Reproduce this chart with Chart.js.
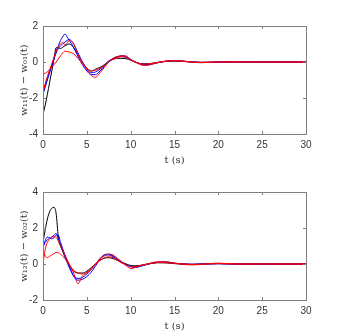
<!DOCTYPE html>
<html>
<head>
<meta charset="utf-8">
<script src="https://cdn.jsdelivr.net/npm/chart.js@4"></script>
<style>
  html, body { margin:0; padding:0; background:#fff; }
  .plot { position:absolute; left:0; width:339px; height:166px; }
</style>
</head>
<body>
<div class="plot" style="top:0"><canvas id="graf1" width="339" height="166"></canvas></div>
<div class="plot" style="top:166px"><canvas id="graf2" width="339" height="166"></canvas></div>
<script>
// tempos (s)
const tempo = [0,0.25,0.5,0.75,1,1.25,1.5,1.75,2,2.25,2.5,2.75,3,3.5,4,4.5,5,5.5,6,6.5,7,7.5,8,8.5,9,9.5,10,10.5,11,11.5,12,13,14,15,16,17,18,19,20,22,25,30];

// subplot 1: w11(t) - w01(t)
const s1Azul1  = [-1.8,-1.4,-1.0,-0.6,-0.2,0.2,0.6,0.9,1.2,1.4,1.55,1.4,1.2,0.8,0.3,-0.15,-0.5,-0.7,-0.7,-0.5,-0.25,0,0.2,0.3,0.35,0.3,0.15,0,-0.1,-0.15,-0.15,-0.05,0.05,0.08,0.05,0,-0.03,-0.02,0,0.01,0,0];
const s1Azul2  = [-1.7,-1.3,-0.9,-0.55,-0.2,0.15,0.5,0.75,0.9,1.0,1.1,1.2,1.25,1.0,0.5,0,-0.4,-0.6,-0.55,-0.4,-0.2,0.05,0.2,0.3,0.3,0.25,0.1,0,-0.08,-0.12,-0.12,-0.04,0.04,0.07,0.04,0,-0.02,-0.02,0,0.01,0,0];
const s1Verm1  = [-1.7,-1.2,-0.8,-0.45,-0.1,0.25,0.6,0.85,1.0,1.1,0.95,1.05,1.2,1.0,0.4,0,-0.4,-0.75,-0.85,-0.6,-0.3,0,0.2,0.3,0.35,0.33,0.15,0,-0.12,-0.2,-0.18,-0.05,0.05,0.08,0.05,0,-0.04,-0.02,0,0.01,0,0];
const s1Verm2  = [-0.7,-0.62,-0.55,-0.42,-0.3,-0.15,0,0.17,0.35,0.5,0.6,0.58,0.55,0.45,0.2,-0.1,-0.35,-0.5,-0.45,-0.35,-0.2,0,0.15,0.25,0.3,0.25,0.1,0,-0.08,-0.12,-0.1,-0.03,0.04,0.06,0.03,0,-0.02,-0.01,0,0,0,0];
const s1Preto  = [-2.9,-2.4,-1.8,-1.15,-0.5,0.15,0.8,0.78,0.75,0.82,0.9,0.97,1.0,0.8,0.4,0,-0.35,-0.5,-0.4,-0.3,-0.15,0.05,0.15,0.2,0.2,0.18,0.1,0,-0.08,-0.1,-0.1,-0.03,0.03,0.05,0.03,0,-0.02,-0.01,0,0,0,0];

// subplot 2: w12(t) - w02(t)
const s2Azul1  = [0.9,1.3,1.5,1.45,1.4,1.45,1.6,1.6,1.2,0.85,0.5,0.2,-0.1,-0.7,-0.9,-0.85,-0.7,-0.45,-0.1,0.25,0.5,0.55,0.45,0.3,0.1,-0.05,-0.15,-0.2,-0.15,-0.08,0,0.1,0.12,0.05,0,-0.02,-0.01,0.01,0.02,0,0,0];
const s2Azul2  = [1.0,1.2,1.35,1.42,1.5,1.6,1.7,1.4,1.1,0.75,0.4,0.1,-0.2,-0.65,-0.8,-0.75,-0.55,-0.3,0,0.3,0.5,0.5,0.4,0.25,0.08,-0.05,-0.12,-0.15,-0.12,-0.06,0,0.08,0.1,0.04,0,-0.02,-0.01,0.01,0.02,0,0,0];
const s2Verm1  = [0,0.8,1.2,1.4,1.5,1.52,1.5,1.25,1.0,0.75,0.5,0.25,0,-0.5,-1.1,-0.65,-0.5,-0.3,0,0.3,0.45,0.55,0.5,0.3,0.1,-0.1,-0.25,-0.2,-0.1,-0.04,0.02,0.12,0.12,0.05,-0.02,-0.05,-0.03,0.02,0.05,0,0,0];
const s2Verm2  = [0.7,0.45,0.35,0.42,0.5,0.58,0.65,0.62,0.55,0.42,0.3,0.12,-0.05,-0.35,-0.5,-0.55,-0.45,-0.25,0,0.2,0.35,0.4,0.35,0.2,0.05,-0.05,-0.15,-0.15,-0.1,-0.05,0,0.08,0.08,0.03,0,-0.02,-0.01,0.01,0.02,0,0,0];
const s2Preto  = [1.2,1.9,2.5,2.9,3.1,3.15,2.8,1.5,1.0,0.7,0.4,0.15,-0.1,-0.4,-0.5,-0.5,-0.4,-0.2,0,0.2,0.32,0.35,0.3,0.2,0.1,0,-0.08,-0.1,-0.08,-0.04,0,0.07,0.06,0.02,-0.01,-0.02,0,0.01,0.02,0,0,0];

const ticksX = [0,5,10,15,20,25,30];
const ticksY1 = [-4,-2,0,2];
const ticksY2 = [-2,0,2,4];

const corEixo = '#808080';
const corTexto = '#333';

function serie(valores, cor){
    return {
        data: tempo.map((t, i) => ({x: t, y: valores[i]})),
        borderColor: cor,
        borderWidth: 1,
        pointRadius: 0,
        fill: false,
        cubicInterpolationMode: 'monotone'
    };
}

// caixa + marcas internas estilo matlab
const caixaPlugin = {
    id: 'caixa',
    afterDatasetsDraw(chart){
        const ctx = chart.ctx;
        const a = chart.chartArea;
        const sx = chart.scales.x, sy = chart.scales.y;
        ctx.save();
        ctx.strokeStyle = corEixo;
        ctx.lineWidth = 1;
        ctx.strokeRect(Math.round(a.left) + 0.5, Math.round(a.top) + 0.5, Math.round(a.right - a.left), Math.round(a.bottom - a.top));
        ctx.beginPath();
        sx.ticks.forEach(t => {
            const px = Math.round(sx.getPixelForValue(t.value)) + 0.5;
            ctx.moveTo(px, a.bottom); ctx.lineTo(px, a.bottom - 3);
            ctx.moveTo(px, a.top); ctx.lineTo(px, a.top + 3);
        });
        sy.ticks.forEach(t => {
            const py = Math.round(sy.getPixelForValue(t.value)) + 0.5;
            ctx.moveTo(a.left, py); ctx.lineTo(a.left + 3, py);
            ctx.moveTo(a.right, py); ctx.lineTo(a.right - 3, py);
        });
        ctx.stroke();
        ctx.restore();
    }
};

function criarGrafico(id, datasets, ticksY, rotulo){
    const minY = ticksY[0], maxY = ticksY[ticksY.length - 1];
    return new Chart(document.getElementById(id), {
        type: 'line',
        data: { datasets: datasets },
        options: {
            responsive: false,
            animation: false,
            events: [],
            layout: { padding: { top: 26, right: 33, left: 0, bottom: 0 } },
            plugins: { legend: { display: false }, tooltip: { enabled: false } },
            scales: {
                x: {
                    type: 'linear', min: 0, max: 30,
                    afterBuildTicks: s => { s.ticks = ticksX.map(v => ({value: v})); },
                    afterFit: s => { s.height = 32; },
                    grid: { display: false, drawTicks: false },
                    border: { display: false },
                    ticks: { color: corTexto, font: { family: 'Liberation Sans', size: 10 }, padding: 5, maxRotation: 0 },
                    title: { display: true, text: 't (s)', color: corTexto, font: { family: 'DejaVu Serif', size: 10 }, padding: { top: 0, bottom: 0 } }
                },
                y: {
                    type: 'linear', min: minY, max: maxY,
                    afterBuildTicks: s => { s.ticks = ticksY.map(v => ({value: v})); },
                    afterFit: s => { s.width = 43; },
                    grid: { display: false, drawTicks: false },
                    border: { display: false },
                    ticks: { color: corTexto, font: { family: 'Liberation Sans', size: 10 }, padding: 5 },
                    title: { display: true, text: rotulo, color: corTexto, font: { family: 'DejaVu Serif', size: 10 }, padding: { top: 18, bottom: 0 } }
                }
            }
        },
        plugins: [caixaPlugin]
    });
}

criarGrafico('graf1', [
    serie(s1Verm2, '#ff0000'),
    serie(s1Verm1, '#ff0000'),
    serie(s1Azul2, '#0000ff'),
    serie(s1Azul1, '#0000ff'),
    serie(s1Preto, '#000000')
], ticksY1, 'w\u2081\u2081(t) \u2212 w\u2080\u2081(t)');

criarGrafico('graf2', [
    serie(s2Verm2, '#ff0000'),
    serie(s2Verm1, '#ff0000'),
    serie(s2Azul2, '#0000ff'),
    serie(s2Azul1, '#0000ff'),
    serie(s2Preto, '#000000')
], ticksY2, 'w\u2081\u2082(t) \u2212 w\u2080\u2082(t)');
</script>
</body>
</html>
